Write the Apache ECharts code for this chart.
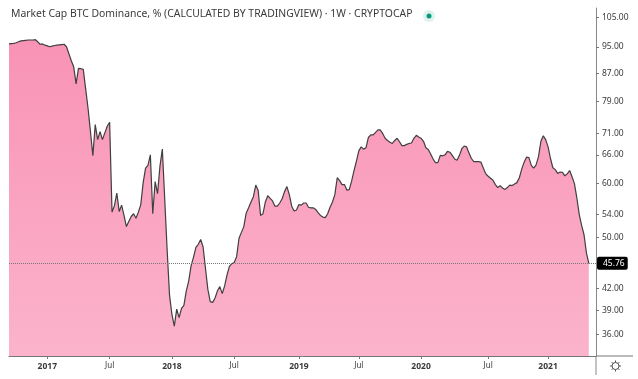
<!DOCTYPE html>
<html>
<head>
<meta charset="utf-8">
<style>
    html, body { margin: 0; padding: 0; background: #fff; }
    #chart { width: 638px; height: 379px; }
</style>
</head>
<body>
<div id="chart"></div>
<script src="https://cdn.jsdelivr.net/npm/echarts@6/dist/echarts.min.js"></script>
<script>
// weekly closes
const firstWeek = '2016-09-12';
const weekCount = 246;
const dominance = [
    96.0, 96.1, 96.2, 96.4, 96.7, 97.0, 97.1, 97.2, 97.3, 97.3, 97.3, 97.4, 96.7, 95.9, 96.0, 95.6,
    95.4, 95.1, 95.3, 95.5, 95.6, 95.7, 95.8, 95.9, 95.1, 92.9, 90.7, 88.9, 83.9, 88.4, 88.3, 88.1,
    82.5, 77.2, 71.4, 65.8, 73.1, 69.5, 71.4, 69.5, 71.1, 72.7, 73.7, 54.4, 55.6, 58.0, 54.5, 55.7,
    53.8, 51.8, 52.7, 53.6, 54.1, 53.3, 54.4, 55.8, 60.1, 63.1, 63.7, 66.0, 54.1, 60.3, 57.9, 63.5,
    67.3, 56.8, 47.9, 41.1, 38.5, 37.0, 39.2, 38.1, 39.3, 39.7, 41.7, 43.1, 45.4, 46.7, 48.3, 48.8,
    49.6, 48.4, 45.0, 41.9, 40.2, 40.1, 40.7, 41.7, 42.3, 41.3, 42.4, 44.0, 45.3, 45.7, 45.9, 46.8,
    49.8, 50.8, 51.8, 54.2, 55.2, 56.3, 57.3, 59.6, 58.5, 53.8, 54.1, 56.3, 57.5, 57.0, 56.5, 55.5,
    55.5, 56.1, 56.9, 58.3, 59.3, 57.7, 55.5, 54.6, 54.8, 55.8, 55.7, 56.1, 56.1, 55.3, 55.2, 55.2,
    54.9, 54.3, 53.8, 53.5, 53.4, 54.1, 55.3, 56.3, 57.7, 61.1, 60.5, 59.7, 59.7, 58.6, 58.7, 60.4,
    62.6, 64.6, 66.9, 67.8, 67.3, 67.6, 70.0, 70.6, 70.6, 71.2, 71.8, 71.8, 70.9, 69.8, 69.3, 68.9,
    68.6, 69.3, 69.8, 69.0, 68.1, 68.1, 68.4, 68.6, 68.7, 69.8, 70.5, 70.1, 69.8, 69.1, 67.6, 67.2,
    66.2, 65.1, 64.3, 64.3, 65.9, 65.8, 66.0, 66.8, 66.6, 65.9, 65.1, 64.8, 65.9, 67.4, 68.0, 67.8,
    66.4, 65.2, 64.5, 64.5, 64.5, 64.4, 63.1, 61.9, 61.4, 61.0, 60.6, 59.7, 59.1, 59.5, 59.0, 58.7,
    59.1, 59.6, 59.5, 59.8, 60.1, 61.1, 62.9, 64.4, 65.5, 65.4, 63.7, 63.1, 63.8, 65.6, 69.1, 70.4,
    69.5, 67.8, 65.2, 63.2, 62.8, 62.0, 62.3, 62.2, 61.5, 61.9, 62.6, 61.3, 59.9, 57.1, 54.0, 52.0,
    50.4, 47.4, 45.76
];
const lastValue = 45.76;
const priceTicks = [36, 39, 42, 50, 54, 60, 66, 71, 79, 87, 95, 105];
const timeTicks = ['2017-01-02', '2017-07-03', '2018-01-01', '2018-07-02', '2019-01-07', '2019-07-01',
    '2019-12-30', '2020-07-13', '2021-01-04'];
const timeLabels = ['2017', 'Jul', '2018', 'Jul', '2019', 'Jul', '2020', 'Jul', '2021'];

const WEEK = 7 * 24 * 3600 * 1000;
const start = Date.parse(firstWeek);
// the axis runs a few empty weeks past the last close
const weeks = [];
for (let i = 0; i < weekCount; i++) {
    weeks.push(new Date(start + i * WEEK).toISOString().slice(0, 10));
}
const isTimeTick = (index, value) => timeTicks.includes(value);

const font = '"Noto Sans", sans-serif';

// settings gear, spokes around a small ring
const gearSpokes = [0, 45, 90, 135, 180, 225, 270, 315].map(deg => {
    const a = deg * Math.PI / 180;
    return {
        type: 'line',
        shape: {
            x1: 615.5 + 3.5 * Math.cos(a), y1: 366 + 3.5 * Math.sin(a),
            x2: 615.5 + 5.5 * Math.cos(a), y2: 366 + 5.5 * Math.sin(a)
        },
        style: { stroke: '#555555', lineWidth: 1 },
        silent: true
    };
});

let option = {
    animation: false,
    backgroundColor: '#ffffff',
    textStyle: { fontFamily: font },
    title: {
        text: 'Market Cap BTC Dominance, % (CALCULATED BY TRADINGVIEW) · 1W · CRYPTOCAP',
        left: 11,
        top: 9,
        padding: 0,
        textStyle: { color: '#3a3a3a', fontSize: 10.4, fontWeight: 'normal', fontFamily: font }
    },
    grid: { left: 9, right: 42, top: 8, bottom: 23 },
    xAxis: {
        type: 'category',
        data: weeks,
        boundaryGap: false,
        splitLine: { show: false },
        axisLine: { lineStyle: { color: '#777777', width: 1 } },
        axisTick: { interval: isTimeTick, length: 3, lineStyle: { color: '#777777' } },
        axisLabel: {
            interval: isTimeTick,
            margin: 6,
            hideOverlap: false,
            formatter: (value) => {
                const text = timeLabels[timeTicks.indexOf(value)];
                return text === 'Jul' ? '{m|Jul}' : '{y|' + text + '}';
            },
            rich: {
                y: { fontSize: 8.5, fontWeight: 'bold', color: '#3a3a3a', fontFamily: font },
                m: { fontSize: 8, color: '#3a3a3a', fontFamily: font }
            }
        }
    },
    yAxis: {
        type: 'log',
        position: 'right',
        min: 33.46,
        max: 108.4,
        splitLine: { show: false },
        minorTick: { show: false },
        axisLine: { show: true, lineStyle: { color: '#888888', width: 1 } },
        axisTick: { show: true, customValues: priceTicks, length: 3, lineStyle: { color: '#777777' } },
        axisLabel: {
            customValues: priceTicks,
            margin: 6,
            color: '#3a3a3a',
            fontSize: 8.5,
            formatter: (value) => Number(value).toFixed(2)
        }
    },
    series: [
        {
            type: 'line',
            data: dominance,
            showSymbol: false,
            smooth: false,
            lineStyle: { color: '#3f3f3f', width: 1.2 },
            areaStyle: {
                opacity: 1,
                color: new echarts.graphic.LinearGradient(0, 0, 0, 1, [
                    { offset: 0, color: '#f993b5' },
                    { offset: 1, color: '#fbb3cb' }
                ])
            },
            markLine: {
                silent: true,
                symbol: 'none',
                animation: false,
                lineStyle: { color: '#777777', type: 'dotted', width: 1 },
                label: {
                    position: 'end',
                    distance: 1,
                    formatter: () => lastValue.toFixed(2),
                    color: '#ffffff',
                    fontSize: 8.5,
                    backgroundColor: '#000000',
                    borderRadius: 2,
                    padding: [2, 3, 2, 6]
                },
                data: [{ yAxis: lastValue }]
            }
        }
    ],
    graphic: [
        { type: 'circle', shape: { cx: 429, cy: 16, r: 6 }, style: { fill: '#dff2ee' }, silent: true },
        { type: 'circle', shape: { cx: 429, cy: 16, r: 2.5 }, style: { fill: '#089981' }, silent: true },
        // axis lines run past the plot corner
        { type: 'line', shape: { x1: 596, y1: 356, x2: 596, y2: 375 }, style: { stroke: '#888888', lineWidth: 1 }, silent: true },
        { type: 'line', shape: { x1: 596, y1: 356, x2: 633, y2: 356 }, style: { stroke: '#777777', lineWidth: 1 }, silent: true },
        { type: 'circle', shape: { cx: 615.5, cy: 366, r: 3.5 }, style: { fill: 'none', stroke: '#555555', lineWidth: 1 }, silent: true },
        ...gearSpokes
    ]
};

const chartInit = () => {
    let myChart = echarts.init(document.getElementById('chart'), null, { renderer: 'canvas' });
    option && myChart.setOption(option);
}

chartInit();
</script>
</body>
</html>
